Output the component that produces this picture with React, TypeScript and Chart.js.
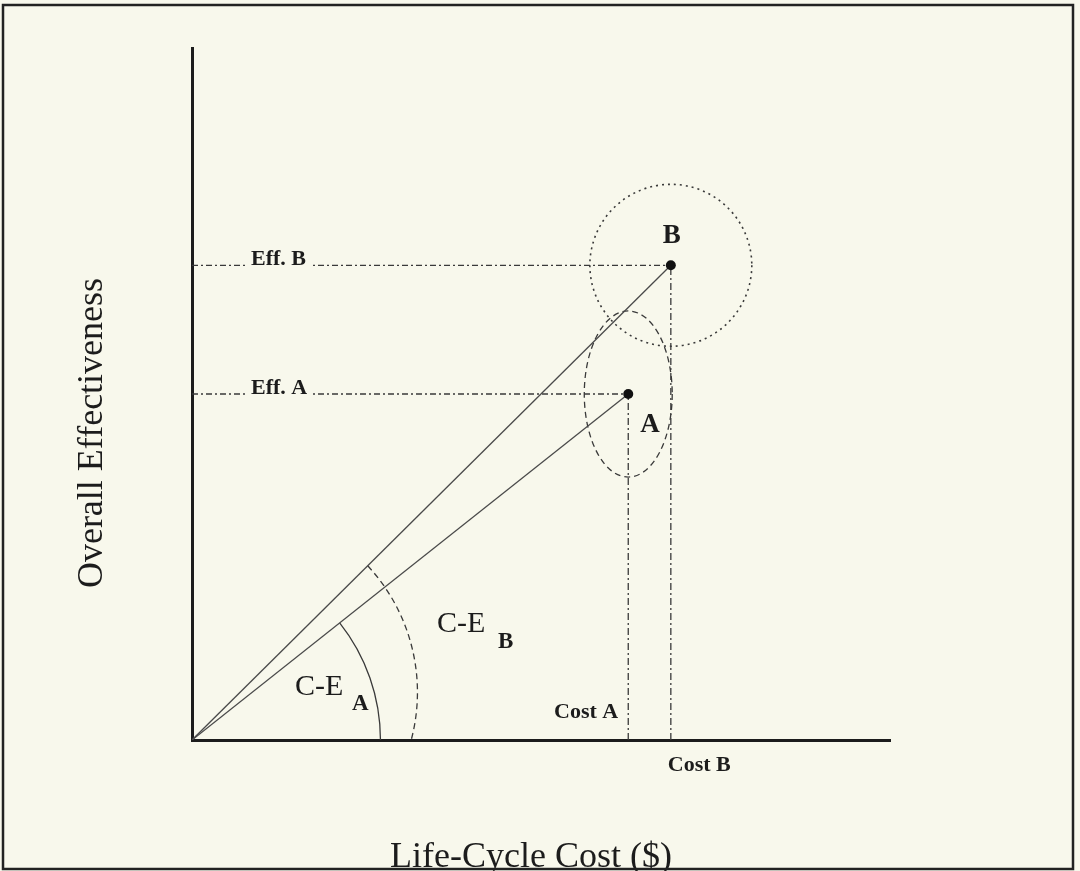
import React, { useEffect, useRef } from 'react';
import { Chart, registerables } from 'chart.js';

Chart.register(...registerables);

// ---- data ----
const alternatives = ['A', 'B'];
const lifeCycleCost = [62.5, 68.6];
const overallEffectiveness = [50, 68.6];
const costLabels = ['Cost A', 'Cost B'];
const effLabels = ['Eff. A', 'Eff. B'];
// half-extent of the uncertainty region around each alternative
const spreadCost = [6.3, 11.6];
const spreadEff = [12.0, 11.7];
// cost-effectiveness angle arcs
const ceLabel = 'C-E';
const ceArcRadius = [27, 26.6];
const ceArcCenterCost = [0, 5.7];
const ceArcCenterEff = [0, 6.9];
const xRange = [0, 100];
const yRange = [0, 100];
const xTitle = 'Life-Cycle Cost ($)';
const yTitle = 'Overall Effectiveness';

const BG = '#f8f8ec';
const INK = '#1c1c1c';
const LINE = '#3a3a3a';
const SERIF = '"Liberation Serif", "Times New Roman", serif';

const diagramPlugin = {
  id: 'diagram',
  beforeDraw(chart: any) {
    const { ctx, width, height } = chart;
    ctx.save();
    ctx.fillStyle = BG;
    ctx.fillRect(0, 0, width, height);
    ctx.restore();
  },
  beforeDatasetsDraw(chart: any) {
    const { ctx, scales } = chart;
    const x = scales.x, y = scales.y;
    const px = (v: number) => x.getPixelForValue(v);
    const py = (v: number) => y.getPixelForValue(v);
    const unitX = px(1) - px(0);
    const unitY = py(0) - py(1);
    ctx.save();
    ctx.strokeStyle = LINE;
    // uncertainty regions
    alternatives.forEach((_, i) => {
      ctx.beginPath();
      ctx.ellipse(
        px(lifeCycleCost[i]),
        py(overallEffectiveness[i]),
        spreadCost[i] * unitX,
        spreadEff[i] * unitY,
        0,
        0,
        Math.PI * 2
      );
      ctx.setLineDash(i === 0 ? [6, 4] : [2, 4]);
      ctx.lineWidth = i === 0 ? 1.3 : 1.6;
      ctx.stroke();
    });
    // angle arcs
    const ox = px(0), oy = py(0);
    alternatives.forEach((_, i) => {
      const cx = px(ceArcCenterCost[i]);
      const cy = py(ceArcCenterEff[i]);
      const r = ceArcRadius[i] * unitX;
      const dx = px(lifeCycleCost[i]) - ox;
      const dy = py(overallEffectiveness[i]) - oy;
      const len = Math.hypot(dx, dy);
      const ux = dx / len, uy = dy / len;
      const fx = ox - cx, fy = oy - cy;
      const b = fx * ux + fy * uy;
      const c = fx * fx + fy * fy - r * r;
      const t = -b + Math.sqrt(b * b - c);
      const ex = ox + t * ux, ey = oy + t * uy;
      const a1 = Math.atan2(ey - cy, ex - cx);
      const hx = cx + Math.sqrt(r * r - (oy - cy) * (oy - cy));
      const a2 = Math.atan2(oy - cy, hx - cx);
      ctx.beginPath();
      ctx.arc(cx, cy, r, a1, a2);
      ctx.setLineDash(i === 0 ? [] : [6, 4]);
      ctx.lineWidth = 1.3;
      ctx.stroke();
    });
    ctx.restore();
  },
  afterDatasetsDraw(chart: any) {
    const { ctx, scales, chartArea } = chart;
    const x = scales.x, y = scales.y;
    const px = (v: number) => x.getPixelForValue(v);
    const py = (v: number) => y.getPixelForValue(v);
    ctx.save();
    ctx.fillStyle = INK;
    ctx.textBaseline = 'alphabetic';

    // Eff labels on the horizontal guides
    ctx.font = `bold 22px ${SERIF}`;
    ctx.textAlign = 'left';
    alternatives.forEach((_, i) => {
      const tx = chartArea.left + 59;
      const ty = py(overallEffectiveness[i]);
      const w = ctx.measureText(effLabels[i]).width;
      ctx.fillStyle = BG;
      ctx.fillRect(tx - 4, ty - 18, w + 8, 21);
      ctx.fillStyle = INK;
      ctx.fillText(effLabels[i], tx, ty);
    });

    // Cost labels
    ctx.font = `bold 22px ${SERIF}`;
    ctx.textAlign = 'right';
    ctx.fillText(costLabels[0], px(lifeCycleCost[0]) - 10, chartArea.bottom - 22);
    ctx.textAlign = 'left';
    ctx.fillText(costLabels[1], px(lifeCycleCost[1]) - 3, chartArea.bottom + 31);

    // point names
    ctx.font = `bold 27px ${SERIF}`;
    ctx.textAlign = 'left';
    ctx.fillText(alternatives[0], px(lifeCycleCost[0]) + 12, py(overallEffectiveness[0]) + 38);
    ctx.textAlign = 'center';
    ctx.fillText(alternatives[1], px(lifeCycleCost[1]) + 1, py(overallEffectiveness[1]) - 22);

    // C-E labels
    ctx.textAlign = 'left';
    ctx.font = `30px ${SERIF}`;
    ctx.fillText(ceLabel, chartArea.left + 103, chartArea.bottom - 45);
    ctx.fillText(ceLabel, chartArea.left + 245, chartArea.bottom - 108);
    ctx.font = `bold 23px ${SERIF}`;
    ctx.fillText(alternatives[0], chartArea.left + 160, chartArea.bottom - 30);
    ctx.fillText(alternatives[1], chartArea.left + 306, chartArea.bottom - 92);

    // axis titles
    ctx.font = `36px ${SERIF}`;
    ctx.textAlign = 'center';
    ctx.fillText(xTitle, chartArea.left + 339, chartArea.bottom + 127);
    ctx.save();
    ctx.translate(chartArea.left - 90, chartArea.bottom - 307);
    ctx.rotate(-Math.PI / 2);
    ctx.fillText(yTitle, 0, 0);
    ctx.restore();
    ctx.restore();
  },
  afterDraw(chart: any) {
    const { ctx, width, height } = chart;
    ctx.save();
    ctx.strokeStyle = '#222';
    ctx.lineWidth = 2.5;
    ctx.setLineDash([]);
    ctx.strokeRect(3, 5, width - 10, height - 7);
    ctx.restore();
  },
};

export default function App() {
  const ref = useRef<HTMLCanvasElement | null>(null);
  useEffect(() => {
    document.body.style.margin = '0';
    const canvas = ref.current;
    if (!canvas) return;
    const guide = (pts: { x: number; y: number }[], dash: number[], order: number, color: string) => ({
      type: 'scatter' as const,
      data: pts,
      showLine: true,
      borderColor: color,
      borderWidth: 1.3,
      borderDash: dash,
      pointRadius: 0,
      order,
    });
    const datasets: any[] = [
      {
        type: 'scatter',
        data: alternatives.map((_, i) => ({ x: lifeCycleCost[i], y: overallEffectiveness[i] })),
        pointRadius: 5,
        pointBackgroundColor: '#111',
        pointBorderWidth: 0,
        showLine: false,
        order: 0,
      },
    ];
    alternatives.forEach((_, i) => {
      const cx = lifeCycleCost[i], cy = overallEffectiveness[i];
      datasets.push(guide([{ x: xRange[0], y: yRange[0] }, { x: cx, y: cy }], [], 1, '#4a4a4a'));
      datasets.push(guide([{ x: xRange[0], y: cy }, { x: cx, y: cy }], [6, 3, 2, 3], 2, LINE));
      datasets.push(guide([{ x: cx, y: yRange[0] }, { x: cx, y: cy }], [7, 3, 2, 3], 2, LINE));
    });
    const chart = new Chart(canvas, {
      type: 'scatter',
      data: { datasets },
      options: {
        animation: false,
        responsive: false,
        maintainAspectRatio: false,
        devicePixelRatio: 1,
        layout: { padding: { left: 192, top: 48, right: 190, bottom: 131 } },
        plugins: { legend: { display: false }, tooltip: { enabled: false } },
        events: [],
        scales: {
          x: {
            type: 'linear',
            min: xRange[0],
            max: xRange[1],
            grid: { display: false },
            ticks: { display: false },
            border: { display: true, width: 3, color: INK },
            afterFit: (s: any) => { s.height = 0; },
          },
          y: {
            type: 'linear',
            min: yRange[0],
            max: yRange[1],
            grid: { display: false },
            ticks: { display: false },
            border: { display: true, width: 3, color: INK },
            afterFit: (s: any) => { s.width = 0; },
          },
        },
      } as any,
      plugins: [diagramPlugin],
    });
    return () => chart.destroy();
  }, []);
  return (
    <div style={{ width: 1080, height: 871 }}>
      <canvas ref={ref} width={1080} height={871} style={{ display: 'block' }} />
    </div>
  );
}
